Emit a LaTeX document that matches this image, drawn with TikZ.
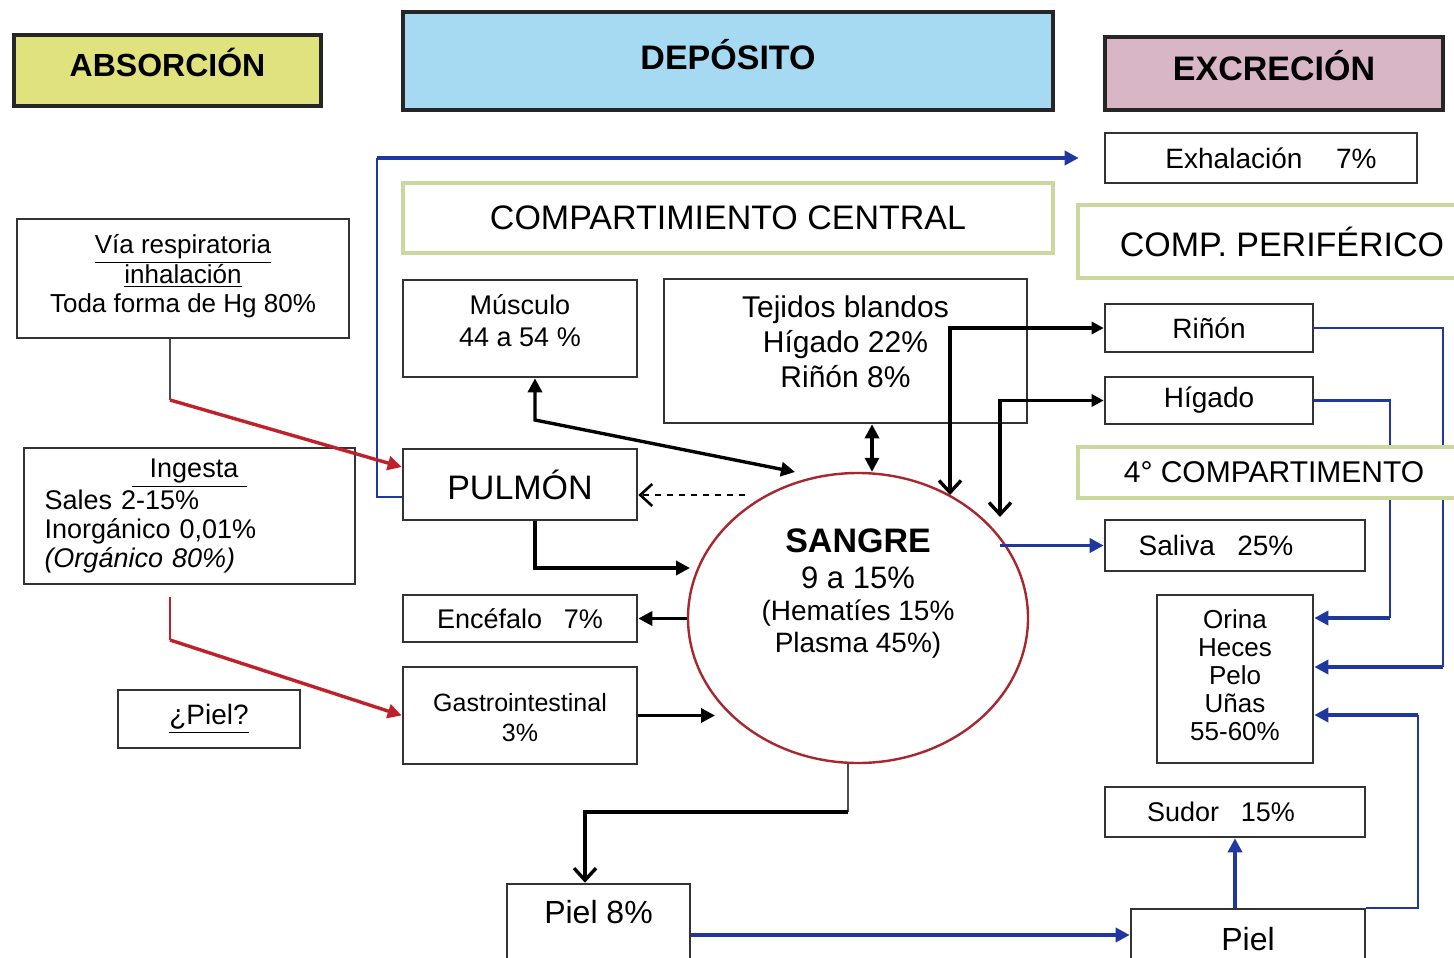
\documentclass[tikz,border=0pt]{standalone}
\usepackage{fontspec}
\setmainfont{Liberation Sans}
\usetikzlibrary{arrows.meta,shapes.geometric,calc}
\definecolor{absc}{HTML}{E0E27E}
\definecolor{depc}{HTML}{A6DAF3}
\definecolor{excc}{HTML}{D8B6C6}
\definecolor{olivec}{HTML}{CAD89E}
\definecolor{redc}{HTML}{C0202A}
\definecolor{bluec}{HTML}{2036A0}
\definecolor{sangc}{HTML}{A8272E}
\newcommand{\fsz}[2]{\fontsize{#1}{#2}\selectfont}
\newcommand{\stk}[1]{\begin{tabular}{@{}c@{}}#1\end{tabular}}
\newcommand{\upby}[2]{\raisebox{0pt}[\height][\dimexpr\depth+#1\relax]{#2}}
\newcommand{\dnby}[2]{\raisebox{0pt}[\dimexpr\height+#1\relax][\depth]{#2}}
\begin{document}
\begin{tikzpicture}[x=0.5pt,y=-0.5pt,
  box/.style={draw=black!80, line width=1.3pt, fill=white, align=center, inner sep=1pt},
  hdr/.style={draw=black!85, line width=1.8pt, align=center, inner sep=1pt},
  obox/.style={draw=olivec, line width=1.6pt, fill=white, align=center, inner sep=1pt},
  blk/.style={draw=black, line width=1.7pt},
  blu/.style={draw=bluec, line width=1.2pt},
  bluA/.style={blu, -{Triangle[length=7pt,width=7pt]}},
  redA/.style={draw=redc, line width=1.7pt, -{Triangle[length=7pt,width=7pt]}},
  triA/.style={-{Triangle[length=7pt,width=7pt]}},
  triB/.style={{Triangle[length=7pt,width=7pt]}-{Triangle[length=7pt,width=7pt]}},
  barbA/.style={-{Straight Barb[length=6pt,width=11pt]}}
]
\useasboundingbox (0,0) rectangle (1454,957);

% headers
\node[hdr, fill=absc, minimum width=153.5pt, minimum height=35.5pt, font=\fsz{16}{19}\bfseries] (abs) at (167.5,70.5) {\raisebox{8pt}{ABSORCIÓN}};
\node[hdr, fill=depc, minimum width=325pt, minimum height=49pt, font=\fsz{17}{20}\bfseries] (dep) at (728,61) {\raisebox{7pt}{DEPÓSITO}};
\node[hdr, fill=excc, minimum width=169pt, minimum height=36.5pt, font=\fsz{17}{20}\bfseries] (exc) at (1274,73.5) {\raisebox{8pt}{EXCRECIÓN}};

\node[box, minimum width=156pt, minimum height=25pt, font=\fsz{14}{16}] (exha) at (1261,158) {\hspace*{10pt}Exhalación\hspace{1.2em}7\%};
\node[obox, minimum width=325pt, minimum height=35pt, font=\fsz{17}{20}] (ccen) at (728,218) {COMPARTIMIENTO CENTRAL};
\node[obox, minimum width=196pt, minimum height=36.5pt, font=\fsz{17}{20}] (cper) at (1274,241.5) {\hspace*{8pt}COMP. PERIFÉRICO};

% absorption
\node[box, minimum width=166pt, minimum height=59.5pt, font=\fsz{13}{14.5}] (via) at (183,278.5) {\upby{1pt}{\stk{\underline{Vía respiratoria}\\\underline{inhalación}\\Toda forma de Hg 80\%}}};
\node[box, align=left, minimum width=165.5pt, minimum height=68pt, text width=145pt, font=\fsz{13.5}{14.5}] (inge) at (189.5,516) {\makebox[145pt][c]{\underline{\ \ Ingesta\ }}\\Sales 2-15\%\\Inorgánico 0,01\%\\\textit{(Orgánico 80\%)}};
\node[box, minimum width=91pt, minimum height=29pt, font=\fsz{14}{16}] (pielq) at (209,719) {\underline{¿Piel?}};

% deposit
\node[box, minimum width=117pt, minimum height=48.5pt, font=\fsz{13.5}{16}] (musc) at (520,328.5) {\upby{4pt}{\stk{Músculo\\44 a 54 \%}}};
\node[box, minimum width=181.5pt, minimum height=72pt, font=\fsz{15}{17.5}] (teji) at (845.5,351) {\upby{6pt}{\stk{Tejidos blandos\\Hígado 22\%\\Riñón 8\%}}};
\node[box, minimum width=117pt, minimum height=35.5pt, font=\fsz{17}{20}] (pulm) at (520,484.5) {PULMÓN};
\node[box, minimum width=117pt, minimum height=23.5pt, font=\fsz{13.5}{16}] (ence) at (520,618.5) {Encéfalo\hspace{0.8em}7\%};
\node[box, minimum width=117pt, minimum height=48.5pt, font=\fsz{12.5}{15}] (gast) at (520,715.5) {\dnby{5pt}{\stk{Gastrointestinal\\3\%}}};
\node[ellipse, draw=sangc, line width=1.2pt, fill=white, minimum width=170pt, minimum height=145pt, inner sep=0pt] (sang) at (858,618) {};
\node[inner sep=0pt] (sangt) at (858,594) {\parbox{160pt}{\centering\fsz{17}{18}\bfseries SANGRE\par\fsz{15.5}{18}\mdseries 9 a 15\%\par\fsz{14}{16}(Hematíes 15\%\\Plasma 45\%)\par}};
\node[box, minimum width=91.5pt, minimum height=38pt, font=\fsz{16}{18}] (piel8) at (598.5,922) {\raisebox{10pt}{Piel 8\%}};

% excretion
\node[box, minimum width=104pt, minimum height=24pt, font=\fsz{14}{16}] (rino) at (1209,328) {Riñón};
\node[box, minimum width=104pt, minimum height=23.5pt, font=\fsz{14}{16}] (higa) at (1209,400.5) {Hígado};
\node[box, minimum width=130pt, minimum height=25.5pt, font=\fsz{14}{16}] (sali) at (1235,545.5) {Saliva\hspace{0.8em}25\%\hspace*{19pt}};
\node[box, minimum width=78pt, minimum height=84pt, font=\fsz{13}{14}] (orin) at (1235,679) {\stk{Orina\\Heces\\Pelo\\Uñas\\55-60\%}};
\node[box, minimum width=130pt, minimum height=25pt, font=\fsz{13.5}{16}] (sudo) at (1235,812) {Sudor\hspace{0.8em}15\%\hspace*{14pt}};
\node[box, minimum width=117pt, minimum height=30.5pt, font=\fsz{16}{18}] (pielr) at (1248,939.5) {Piel};

% helper coordinates
\coordinate (k0) at (377,497);
\coordinate (k1) at (170,400);
\coordinate (k2) at (170,640);
\coordinate (k3) at (535,420);
\coordinate (k4) at (795,472);
\coordinate (k5) at (872,0);
\coordinate (k6) at (950,495);
\coordinate (k7) at (1000,517);
\coordinate (k8) at (745,495);
\coordinate (k9) at (690,568);
\coordinate (k11) at (715,0);
\coordinate (k12) at (848,812);
\coordinate (k14) at (1443,0);
\coordinate (k15) at (1390,0);
\coordinate (k16) at (0,935);
\coordinate (k18) at (1418,0);

% connectors
\draw[blu] (pulm.west |- k0) -- (k0) -- (k0 |- exha.west);
\draw[bluA, line width=1.9pt, shorten >=12.5pt] (k0 |- exha.west) -- (exha.west);
\draw[draw=black!70, line width=1.2pt] (via.south -| k1) -- (k1);
\draw[redA] (k1) -- ([yshift=8.75pt]pulm.west);
\draw[draw=redc, line width=1.2pt, shorten <=6pt] (inge.south -| k2) -- (k2);
\draw[redA] (k2) -- (gast.west);
\draw[blk, triB] ([xshift=7.5pt]musc.south) -- (k3) -- (k4);
\draw[blk, triB] (teji.south -| k5) -- (sang.north -| k5);
\draw[blk, {Straight Barb[length=6pt,width=11pt]}-{Triangle[length=6pt,width=6pt]}] (k6) |- (rino.west);
\draw[blk, {Straight Barb[length=6pt,width=11pt]}-{Triangle[length=6pt,width=6pt]}] (k7) |- (higa.west);
\draw[blk, line width=1.3pt, dashed, barbA] (k8) -- (k8 -| pulm.east);
\draw[blk, triA] ([xshift=7.5pt]pulm.south) |- (k9);
\draw[blk, triA] (ence.east -| sang.west) -- (ence.east);
\draw[blk, triA] (gast.east) -- (gast.east -| k11);
\draw[draw=black!70, line width=1.2pt] (sang.south -| k12) -- (k12);
\draw[blk, barbA] (k12) -| ([xshift=-6.75pt]piel8.north);
\draw[bluA, line width=1.8pt] (k7 |- sali.west) -- (sali.west);
\draw[blu] (rino.east) -- (rino.east -| k14) -- ([yshift=6pt]orin.east -| k14);
\draw[bluA, line width=1.8pt] ([yshift=6pt]orin.east -| k14) -- ([yshift=6pt]orin.east);
\draw[blu] (higa.east) -- (higa.east -| k15) -- ([yshift=30.5pt]orin.east -| k15);
\draw[bluA, line width=1.8pt] ([yshift=30.5pt]orin.east -| k15) -- ([yshift=30.5pt]orin.east);
\draw[bluA, line width=1.8pt] (piel8.east |- k16) -- (pielr.west |- k16);
\draw[bluA, line width=1.8pt] (sudo.south |- pielr.north) -- (sudo.south);
\draw[blu] (pielr.north east) -- (pielr.north east -| k18) -- ([yshift=-18pt]orin.east -| k18);
\draw[bluA, line width=1.8pt] ([yshift=-18pt]orin.east -| k18) -- ([yshift=-18pt]orin.east);

% box drawn over the blue lines
\node[obox, minimum width=196pt, minimum height=25.5pt, font=\fsz{15}{18}] (cuar) at (1274,472.5) {4° COMPARTIMENTO};
\end{tikzpicture}
\end{document}
